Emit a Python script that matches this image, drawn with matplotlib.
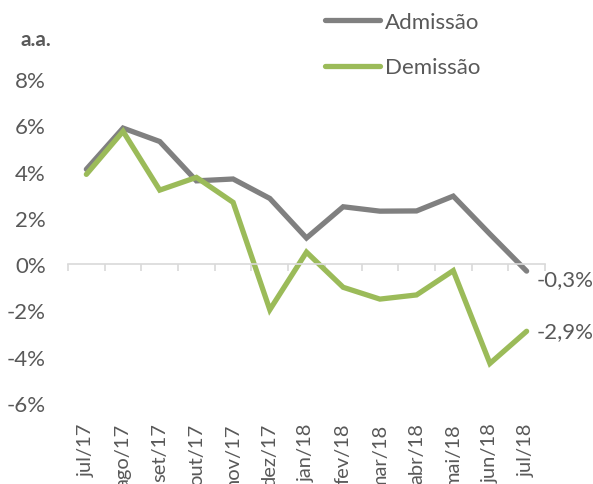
import matplotlib
matplotlib.use('Agg')
import matplotlib.pyplot as plt
import numpy as np

# dados
meses = ['jul/17', 'ago/17', 'set/17', 'out/17', 'nov/17', 'dez/17', 'jan/18',
         'fev/18', 'mar/18', 'abr/18', 'mai/18', 'jun/18', 'jul/18']
admissao = [4.1, 5.88, 5.3, 3.6, 3.68, 2.84, 1.13, 2.48, 2.29, 2.3, 2.94, 1.3, -0.3]
demissao = [3.88, 5.74, 3.2, 3.75, 2.67, -1.97, 0.52, -1.0, -1.51, -1.33, -0.28, -4.29, -2.9]
yticks = [-6, -4, -2, 0, 2, 4, 6, 8]

cinza = '#808080'
verde = '#9bbb59'
texto = '#595959'

plt.rcParams['font.family'] = ['Lato', 'DejaVu Sans']

fig = plt.figure(figsize=(5.93, 4.85), dpi=100)
ax = fig.add_axes([0.1147, 0.167, 0.8043, 0.668])

x = np.arange(len(meses))
ax.plot(x, admissao, color=cinza, lw=3.8, solid_capstyle='round',
        solid_joinstyle='miter', label='Admissão')
ax.plot(x, demissao, color=verde, lw=3.8, solid_capstyle='round',
        solid_joinstyle='miter', label='Demissão')

ax.set_xlim(-0.5, len(meses) - 0.5)
ax.set_ylim(-6, 8)

# eixo y
ax.set_yticks(yticks)
ax.set_yticklabels([f'{v}%' for v in yticks])
ax.tick_params(axis='y', length=0, pad=16, labelsize=16, labelcolor=texto)
for s in ['left', 'right', 'top']:
    ax.spines[s].set_visible(False)

# eixo x no zero com marcas entre categorias
ax.spines['bottom'].set_position(('data', 0))
ax.spines['bottom'].set_color('#d9d9d9')
ax.spines['bottom'].set_linewidth(1.2)
ax.set_xticks(np.arange(len(meses) + 1) - 0.5, minor=True)
ax.set_xticks([])
ax.tick_params(axis='x', which='minor', length=5, width=1.2, color='#d9d9d9',
               direction='out')

sec = ax.secondary_xaxis('bottom')
sec.set_xticks(x)
sec.set_xticklabels(meses, rotation=90, va='top')
sec.tick_params(length=0, pad=14, labelsize=14.5, labelcolor=texto)
sec.spines['bottom'].set_visible(False)

# rótulos finais
ax.annotate('-0,3%', (x[-1], admissao[-1]), xytext=(7, -6), textcoords='offset points',
            ha='left', va='center', fontsize=16, color=texto)
ax.annotate('-2,9%', (x[-1], demissao[-1]), xytext=(7, 0), textcoords='offset points',
            ha='left', va='center', fontsize=16, color=texto)

fig.text(0.034, 0.917, 'a.a.', fontsize=15, fontweight='bold', color=texto,
         ha='left', va='center')

leg = ax.legend(loc='upper left', bbox_to_anchor=(0.52, 1.235), frameon=False,
                fontsize=16, handlelength=2.5, handletextpad=0.2,
                labelspacing=1.15, borderaxespad=0)
for t in leg.get_texts():
    t.set_color(texto)

fig.savefig('out.png', dpi=100)
